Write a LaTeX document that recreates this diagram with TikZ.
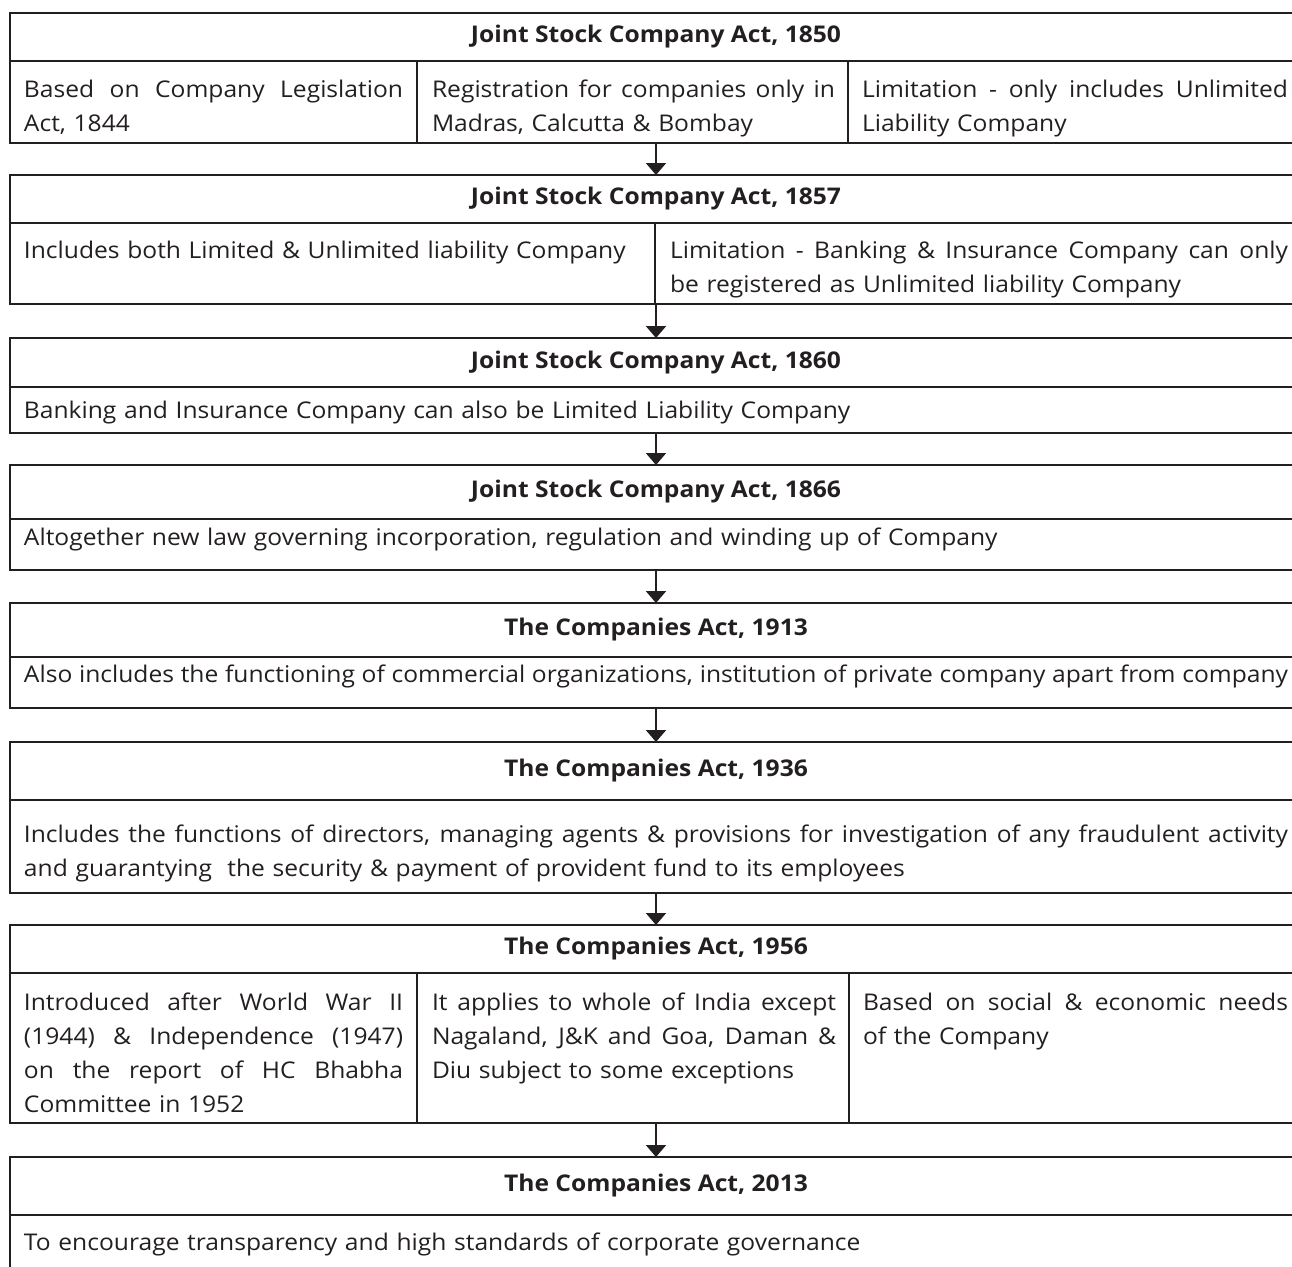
\documentclass[tikz,border=0pt]{standalone}
\usepackage{fontspec}
\setmainfont{Open Sans}[FakeStretch=1.07]
\usetikzlibrary{arrows.meta}
\definecolor{ink}{HTML}{231F20}
\newcommand\bodytext{\fontsize{11.5pt}{17pt}\selectfont}
\newcommand\jl[2]{\leavevmode\hbox to #1{\spaceskip=.25em plus 1fil\xspaceskip=.25em plus 1fil\relax #2}}
\tikzset{
  frame/.style={draw=ink, line width=1.2pt, rectangle, anchor=north west, inner sep=0pt, outer sep=0pt},
  headbox/.style={frame, minimum width=646pt, minimum height=#1, font=\bodytext\bfseries, text=ink},
  cellbox/.style 2 args={frame, minimum width=#1, minimum height=#2},
  celltext/.style={anchor=north west, inner sep=0pt, outer sep=0pt, text width=#1, align=left, font=\bodytext, text=ink, execute at begin node=\strut},
  flow/.style={draw=ink, line width=1.1pt, -{Triangle[width=10pt,length=6pt]}}
}
\begin{document}
\begin{tikzpicture}[x=0.5pt,y=-0.5pt]
  \useasboundingbox (0,0) rectangle (1292,1266);
  \clip (0,0) rectangle (1292,1266);

  \node[headbox=24pt] (t1) at (10,13) {Joint Stock Company Act, 1850};
  \node[cellbox={203.5pt}{41pt}] (b1a) at (10,61) {};
  \node[cellbox={215.5pt}{41pt}] (b1b) at (417,61) {};
  \node[cellbox={227pt}{41pt}] (b1c) at (848,61) {};
  \node[celltext=189.5pt] (x1a) at (24,73.2) {\jl{189.5pt}{Based on Company Legislation}\\Act, 1844};
  \node[celltext=201.5pt] (x1b) at (432,73.2) {\jl{201.5pt}{Registration for companies only in}\\Madras, Calcutta \& Bombay};
  \node[celltext=213pt] (x1c) at (862,73.2) {\jl{213pt}{Limitation - only includes Unlimited}\\Liability Company};

  \node[headbox=24pt] (t2) at (10,175) {Joint Stock Company Act, 1857};
  \node[cellbox={322.5pt}{40.5pt}] (b2a) at (10,223) {};
  \node[cellbox={323.5pt}{40.5pt}] (b2b) at (655,223) {};
  \node[celltext=308pt] (x2a) at (24,234.2) {Includes both Limited \& Unlimited liability Company};
  \node[celltext=309pt] (x2b) at (670,234.2) {\jl{309pt}{Limitation - Banking \& Insurance Company can only}\\be registered as Unlimited liability Company};

  \node[headbox=24.5pt] (t3) at (10,338) {Joint Stock Company Act, 1860};
  \node[cellbox={646pt}{23pt}] (b3) at (10,387) {};
  \node[celltext=632pt] (x3) at (24,394.2) {Banking and Insurance Company can also be Limited Liability Company};

  \node[headbox=27pt] (t4) at (10,465) {Joint Stock Company Act, 1866};
  \node[cellbox={646pt}{25.5pt}] (b4) at (10,519) {};
  \node[celltext=632pt] (x4) at (24,521.2) {Altogether new law governing incorporation, regulation and winding up of Company};

  \node[headbox=27pt] (t5) at (10,603) {The Companies Act, 1913};
  \node[cellbox={646pt}{25.5pt}] (b5) at (10,657) {};
  \node[celltext=632pt] (x5) at (24,658.2) {\jl{632pt}{Also includes the functioning of commercial organizations, institution of private company apart from company}};

  \node[headbox=29pt] (t6) at (10,742) {The Companies Act, 1936};
  \node[cellbox={646pt}{46.5pt}] (b6) at (10,800) {};
  \node[celltext=632pt] (x6) at (24,818.2) {\jl{632pt}{Includes the functions of directors, managing agents \& provisions for investigation of any fraudulent activity}\\and guarantying\ \ the security \& payment of provident fund to its employees};

  \node[headbox=24pt] (t7) at (10,925) {The Companies Act, 1956};
  \node[cellbox={203.5pt}{75pt}] (b7a) at (10,973) {};
  \node[cellbox={216pt}{75pt}] (b7b) at (417,973) {};
  \node[cellbox={226.5pt}{75pt}] (b7c) at (849,973) {};
  \node[celltext=189.5pt] (x7a) at (24,986.2) {\jl{189.5pt}{Introduced after World War II}\\\jl{189.5pt}{(1944) \& Independence (1947)}\\\jl{189.5pt}{on the report of HC Bhabha}\\Committee in 1952};
  \node[celltext=202pt] (x7b) at (432,986.2) {\jl{202pt}{It applies to whole of India except}\\\jl{202pt}{Nagaland, J\&K and Goa, Daman \&}\\Diu subject to some exceptions};
  \node[celltext=212.5pt] (x7c) at (863,986.2) {\jl{212.5pt}{Based on social \& economic needs}\\of the Company};

  \node[headbox=29pt] (t8) at (10,1157) {The Companies Act, 2013};
  \node[cellbox={646pt}{50pt}] (b8) at (10,1215) {};
  \node[celltext=632pt] (x8) at (24,1226.2) {To encourage transparency and high standards of corporate governance};

  \draw[flow] (t1.south |- b1a.south) -- (t2.north);
  \draw[flow] (t2.south |- b2a.south) -- (t3.north);
  \draw[flow] (b3.south) -- (t4.north);
  \draw[flow] (b4.south) -- (t5.north);
  \draw[flow] (b5.south) -- (t6.north);
  \draw[flow] (b6.south) -- (t7.north);
  \draw[flow] (t7.south |- b7a.south) -- (t8.north);
\end{tikzpicture}
\end{document}
